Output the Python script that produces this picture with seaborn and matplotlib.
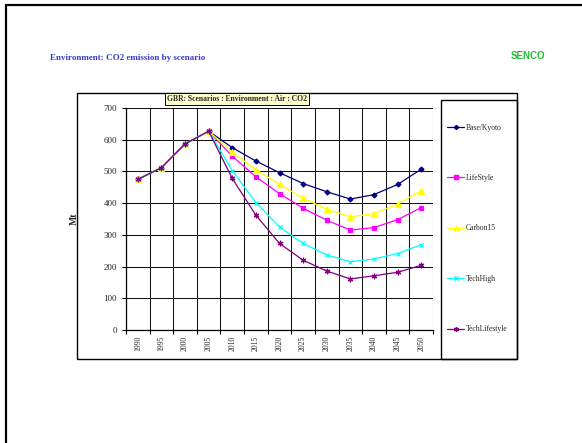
import numpy as np
import pandas as pd
import matplotlib
matplotlib.use("Agg")
import matplotlib.pyplot as plt
import seaborn as sns
from matplotlib.lines import Line2D
from matplotlib.patches import Rectangle

# Data (Mt CO2)
years = ["1990", "1995", "2000", "2005", "2010", "2015", "2020",
         "2025", "2030", "2035", "2040", "2045", "2050"]
base_kyoto = [475, 512, 587, 627, 575, 533, 496, 462, 436, 413, 427, 459, 507]
lifestyle = [475, 512, 587, 627, 548, 483, 430, 384, 346, 315, 323, 348, 386]
carbon15 = [475, 512, 587, 627, 560, 506, 459, 416, 381, 357, 367, 397, 439]
tech_high = [475, 512, 587, 627, 503, 402, 325, 273, 237, 215, 224, 241, 269]
tech_lifestyle = [475, 512, 587, 627, 478, 362, 273, 220, 186, 161, 171, 182, 204]

series_names = ["Base/Kyoto", "LifeStyle", "Carbon15", "TechHigh", "TechLifestyle"]
series_vals = [base_kyoto, lifestyle, carbon15, tech_high, tech_lifestyle]
colors = ["#000080", "#FF00FF", "#FFFF00", "#00FFFF", "#800080"]
markers = ["D", "s", "^", "x", (6, 2, 0)]
msizes = [2.5, 3.3, 3.8, 3.5, 4.0]

rows = []
for name, vals in zip(series_names, series_vals):
    for i, v in enumerate(vals):
        rows.append({"pos": i, "Year": years[i], "Mt": v, "Scenario": name})
df = pd.DataFrame(rows)

sns.set_style("white")
plt.rcParams["font.family"] = ["Liberation Serif", "DejaVu Serif"]

fig = plt.figure(figsize=(5.82, 4.43), dpi=100)
ax = fig.add_axes([0.2165, 0.2551, 0.5275, 0.501])

for name, col, mk, ms in zip(series_names, colors, markers, msizes):
    sub = df[df["Scenario"] == name]
    sns.lineplot(data=sub, x="pos", y="Mt", ax=ax, color=col, linewidth=0.9,
                 marker=mk, markersize=ms, markeredgecolor=col, markerfacecolor=col,
                 markeredgewidth=0.9, label=name, legend=False)

# axes / grid in Excel style
n = len(years)
ax.set_xlim(-0.5, n - 0.5)
ax.set_ylim(0, 700)
ax.set_xticks(np.arange(-0.5, n, 1.0))
ax.set_xticklabels([])
ax.set_xticks(np.arange(n), minor=True)
ax.set_xticklabels(years, minor=True, rotation=90, fontsize=5.5)
ax.tick_params(axis="x", which="minor", length=0, pad=4)
ax.tick_params(axis="x", which="major", length=3, width=0.8, color="black", direction="out", bottom=True)
ax.set_yticks(range(0, 701, 100))
ax.tick_params(axis="y", labelsize=6.5, length=3, width=0.8, direction="out", left=True, color="black")
ax.grid(True, which="major", color="#111111", linewidth=0.75)
ax.set_axisbelow(True)
for side in ["top", "right"]:
    ax.spines[side].set_visible(False)
for side in ["left", "bottom"]:
    ax.spines[side].set_color("black")
    ax.spines[side].set_linewidth(0.9)
ax.set_xlabel("")
ax.set_ylabel("Mt", fontsize=7, fontweight="bold", labelpad=18)

# chart frame and legend frame
fig.add_artist(Rectangle((0.1323, 0.1896), 0.756, 0.6005, transform=fig.transFigure,
                         fill=False, edgecolor="black", linewidth=1.0))
fig.add_artist(Rectangle((0.7577, 0.1896), 0.1306, 0.5847, transform=fig.transFigure,
                         fill=False, edgecolor="black", linewidth=1.0))

handles = [Line2D([], [], color=c, marker=m, markersize=s * 0.85, markerfacecolor=c,
                  markeredgecolor=c, linewidth=0.9) for c, m, s in zip(colors, markers, msizes)]
fig.legend(handles, series_names, loc="upper left", bbox_to_anchor=(0.762, 0.7295),
           frameon=False, fontsize=5.5, handlelength=2.2, handletextpad=0.2,
           labelspacing=5.55, borderpad=0)

# chart title box
fig.text(0.407, 0.776, "GBR: Scenarios : Environment : Air : CO2", fontsize=5.5,
         fontweight="bold", ha="center", va="center",
         bbox=dict(boxstyle="square,pad=0.25", facecolor="#FFFFCC", edgecolor="black", linewidth=0.7))

# slide texts
fig.text(0.086, 0.869, "Environment: CO2 emission by scenario", fontsize=6.5,
         fontweight="bold", color="#3B3BC8", ha="left", va="center")
fig.text(0.937, 0.873, "SENCO", fontsize=7, fontweight="bold", color="#22BB33",
         ha="right", va="center", family=["Liberation Sans", "DejaVu Sans"])

# slide border (left and top)
fig.add_artist(Line2D([0.0095, 0.0095], [0.0, 0.9887], transform=fig.transFigure,
                      color="black", linewidth=1.6))
fig.add_artist(Line2D([0.0095, 1.0], [0.9887, 0.9887], transform=fig.transFigure,
                      color="black", linewidth=1.6))

fig.savefig("out.png", dpi=100, facecolor="white")
